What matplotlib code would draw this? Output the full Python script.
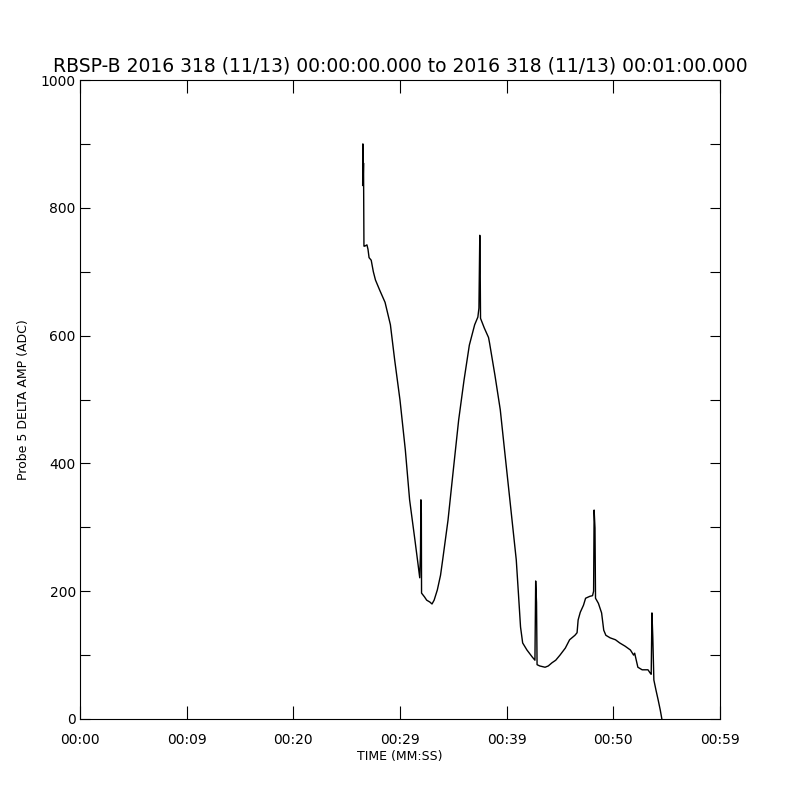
import matplotlib
matplotlib.use("Agg")
import matplotlib.pyplot as plt

# time (s from 00:00:00) and probe 5 delta amplitude (ADC)
t = [26.50, 26.52, 26.55, 26.58, 26.62, 26.7, 26.9, 27.0, 27.1, 27.3, 27.5, 27.7,
     28.1, 28.6, 29.1, 29.5, 30.0, 30.5, 30.9, 31.4, 31.7, 31.85, 31.92, 31.96,
     32.0, 32.02, 32.3, 32.5, 32.8, 33.0, 33.2, 33.5, 33.8, 34.0, 34.5, 35.0,
     35.5, 36.0, 36.5, 37.0, 37.3, 37.4, 37.48, 37.52, 37.55, 37.9, 38.3, 38.4,
     38.9, 39.4, 39.8, 40.3, 40.9, 41.1, 41.3, 41.5, 41.9, 42.4, 42.65, 42.72,
     42.8, 42.85, 43.1, 43.6, 43.9, 44.25, 44.6, 45.0, 45.5, 45.9, 46.4, 46.6,
     46.7, 46.9, 47.2, 47.4, 47.8, 48.05, 48.15, 48.2, 48.28, 48.33, 48.6, 48.9,
     49.1, 49.3, 49.7, 50.2, 50.6, 51.1, 51.6, 51.9, 52.0, 52.3, 52.7, 53.25,
     53.45, 53.55, 53.62, 53.7, 53.8, 54.0, 54.2, 54.4, 54.55]
amp = [835, 900, 845, 870, 740, 740, 742, 735, 722, 718, 700, 687,
       671, 652, 617, 562, 499, 421, 343, 280, 241, 221, 260, 343,
       322, 197, 191, 186, 183, 180, 186, 202, 225, 249, 311, 390,
       468, 530, 585, 617, 629, 643, 757, 700, 627, 612, 597, 588,
       538, 484, 421, 343, 249, 197, 144, 119, 108, 97, 92, 216,
       182, 85, 83, 81, 83, 88, 92, 100, 111, 124, 131, 135,
       155, 167, 178, 189, 192, 193, 200, 327, 299, 189, 181, 166,
       139, 131, 127, 124, 119, 114, 108, 100, 103, 81, 77, 77,
       72, 70, 166, 128, 61, 45, 30, 14, 0]

xticks = [0, 10, 20, 30, 40, 50, 60]
xticklabels = ["00:00", "00:09", "00:20", "00:29", "00:39", "00:50", "00:59"]
yticks = list(range(0, 1001, 100))
yticklabels = [str(v) if v % 200 == 0 else "" for v in yticks]

fig = plt.figure(figsize=(8, 8), dpi=100)
ax = fig.add_axes([0.1, 0.10125, 0.8, 0.79875])

ax.plot(t, amp, color="black", lw=1.0)

ax.set_xlim(0, 60)
ax.set_ylim(0, 1000)
ax.set_xticks(xticks)
ax.set_xticklabels(xticklabels)
ax.set_yticks(yticks)
ax.set_yticklabels(yticklabels)

ax.tick_params(axis="x", direction="in", length=9.5, width=0.8, top=True,
               labelsize=10, pad=10)
ax.tick_params(axis="y", direction="in", length=7, width=0.8, right=True,
               labelsize=10, pad=3)
for s in ax.spines.values():
    s.set_linewidth(0.8)

ax.set_xlabel("TIME (MM:SS)", fontsize=9, labelpad=2)
ax.set_ylabel("Probe 5 DELTA AMP (ADC)", fontsize=9, labelpad=8)
ax.set_title("RBSP-B 2016 318 (11/13) 00:00:00.000 to 2016 318 (11/13) 00:01:00.000",
             fontsize=13.5, pad=6)

fig.savefig("out.png", dpi=100)
